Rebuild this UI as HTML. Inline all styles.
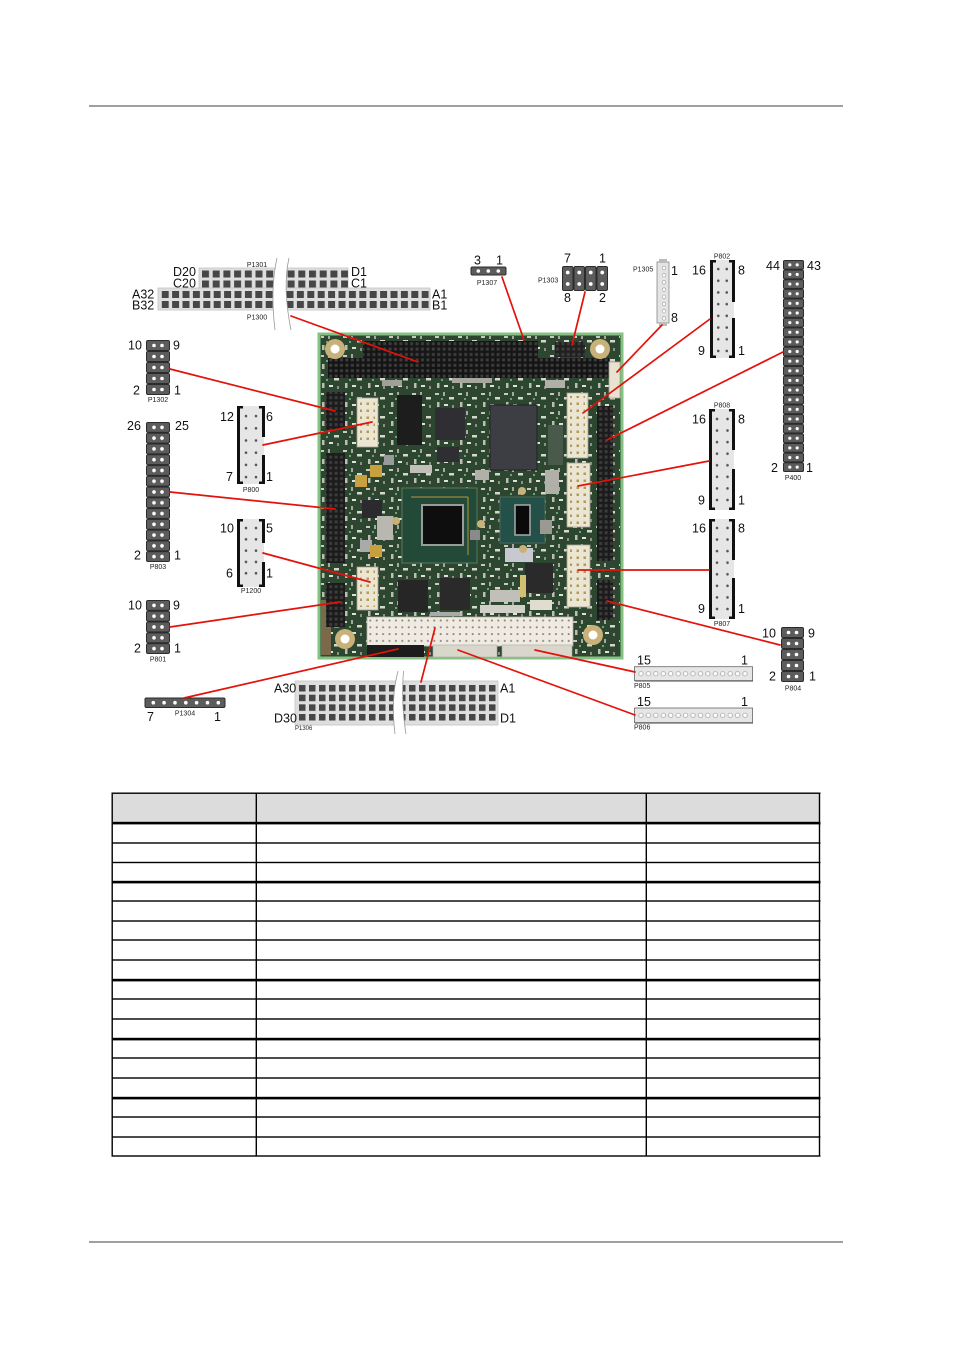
<!DOCTYPE html>
<html>
<head>
<meta charset="utf-8">
<style>
html,body{margin:0;padding:0;background:#fff;}
body{width:954px;height:1350px;position:relative;overflow:hidden;}
svg{position:absolute;left:0;top:0;}
.n{font-family:"Liberation Sans",Arial,sans-serif;font-size:12.5px;fill:#111;}
.s{font-family:"Liberation Sans",Arial,sans-serif;font-size:7px;fill:#222;}
</style>
</head>
<body>
<svg width="954" height="1350" viewBox="0 0 954 1350" xmlns="http://www.w3.org/2000/svg">
<defs>
  <pattern id="sqU" x="202" y="270.5" width="10.7" height="10" patternUnits="userSpaceOnUse"><rect x="0" y="0" width="7" height="7" fill="#474747"/></pattern>
  <pattern id="sqL" x="161.7" y="291" width="10.4" height="10" patternUnits="userSpaceOnUse"><rect x="0" y="0" width="7" height="7" fill="#474747"/></pattern>
  <pattern id="sqB" x="299" y="685" width="10" height="9.67" patternUnits="userSpaceOnUse"><rect x="0" y="0" width="6.5" height="6.5" fill="#474747"/></pattern>
  <pattern id="h1302" x="146" y="340" width="24" height="11" patternUnits="userSpaceOnUse"><rect x="0.5" y="0.5" width="23" height="10" rx="1.5" fill="#5c5c5c" stroke="#2b2b2b"/><circle cx="8" cy="5.5" r="1.8" fill="#fff"/><circle cx="16" cy="5.5" r="1.8" fill="#fff"/></pattern>
  <pattern id="h803" x="146" y="422" width="24" height="10.77" patternUnits="userSpaceOnUse"><rect x="0.5" y="0.5" width="23" height="9.77" rx="1.5" fill="#5c5c5c" stroke="#2b2b2b"/><circle cx="8" cy="5.4" r="1.8" fill="#fff"/><circle cx="16" cy="5.4" r="1.8" fill="#fff"/></pattern>
  <pattern id="h801" x="146" y="600" width="24" height="10.8" patternUnits="userSpaceOnUse"><rect x="0.5" y="0.5" width="23" height="9.8" rx="1.5" fill="#5c5c5c" stroke="#2b2b2b"/><circle cx="8" cy="5.4" r="1.8" fill="#fff"/><circle cx="16" cy="5.4" r="1.8" fill="#fff"/></pattern>
  <pattern id="h804" x="781" y="627" width="23" height="11" patternUnits="userSpaceOnUse"><rect x="0.5" y="0.5" width="22" height="10" rx="1.5" fill="#5c5c5c" stroke="#2b2b2b"/><circle cx="7.5" cy="5.5" r="1.8" fill="#fff"/><circle cx="15.5" cy="5.5" r="1.8" fill="#fff"/></pattern>
  <pattern id="h400" x="783" y="260" width="21" height="9.636" patternUnits="userSpaceOnUse"><rect x="0.5" y="0.5" width="20" height="8.636" rx="1.2" fill="#5c5c5c" stroke="#2b2b2b"/><circle cx="6.8" cy="4.8" r="1.6" fill="#fff"/><circle cx="14.2" cy="4.8" r="1.6" fill="#fff"/></pattern>
  <pattern id="h1303" x="562" y="266" width="11.5" height="25" patternUnits="userSpaceOnUse"><rect x="0.5" y="0.5" width="10.5" height="24" rx="1.5" fill="#5c5c5c" stroke="#2b2b2b"/><circle cx="5.75" cy="6.5" r="1.9" fill="#fff"/><circle cx="5.75" cy="18" r="1.9" fill="#fff"/></pattern>
  <pattern id="d800" x="241" y="410" width="10" height="12.2" patternUnits="userSpaceOnUse"><circle cx="5" cy="6.1" r="1.3" fill="#555"/></pattern>
  <pattern id="d1200" x="241" y="522.4" width="10" height="11.3" patternUnits="userSpaceOnUse"><circle cx="5" cy="5.65" r="1.3" fill="#555"/></pattern>
  <pattern id="d802" x="714" y="263.2" width="8.5" height="11.7" patternUnits="userSpaceOnUse"><circle cx="4.25" cy="5.85" r="1.3" fill="#555"/></pattern>
  <pattern id="d808" x="712" y="413.2" width="10.5" height="11.57" patternUnits="userSpaceOnUse"><circle cx="5" cy="5.8" r="1.3" fill="#555"/></pattern>
  <pattern id="d807" x="712" y="522.2" width="10.5" height="11.57" patternUnits="userSpaceOnUse"><circle cx="5" cy="5.8" r="1.3" fill="#555"/></pattern>
  <pattern id="d805" x="637.3" y="666.7" width="7.43" height="14" patternUnits="userSpaceOnUse"><circle cx="3.7" cy="7" r="2.2" fill="#fff" stroke="#999" stroke-width="0.7"/></pattern>
  <pattern id="d806" x="637.3" y="708" width="7.43" height="14.7" patternUnits="userSpaceOnUse"><circle cx="3.7" cy="7.3" r="2.2" fill="#fff" stroke="#999" stroke-width="0.7"/></pattern>
  <pattern id="hp" x="328" y="341" width="5.4" height="5.4" patternUnits="userSpaceOnUse"><rect x="1.2" y="1.2" width="3" height="3" fill="#3c3c3c"/></pattern>
  <pattern id="wp" x="367" y="617" width="6.4" height="6.8" patternUnits="userSpaceOnUse"><rect x="2.4" y="2.6" width="1.8" height="1.8" fill="#8a8275"/></pattern>
  <pattern id="gp" x="567" y="393" width="7" height="7" patternUnits="userSpaceOnUse"><rect x="2.5" y="2.5" width="2.5" height="2.5" fill="#b59a55"/></pattern>
  <!-- speckle texture of small SMD parts -->
  <pattern id="sp" x="319" y="334" width="23" height="19" patternUnits="userSpaceOnUse">
    <rect x="1" y="2" width="4" height="2" fill="#c9c9c0"/>
    <rect x="9" y="1" width="2" height="4" fill="#a8a8a0"/>
    <rect x="15" y="6" width="5" height="2.5" fill="#d6d6ce"/>
    <rect x="3" y="11" width="2.5" height="5" fill="#bdbdb5"/>
    <rect x="10" y="13" width="4" height="2" fill="#e0e0d8"/>
    <rect x="18" y="14" width="2" height="3" fill="#8f8f88"/>
    <rect x="7" y="7" width="2" height="2" fill="#6fa36f"/>
  </pattern>
</defs>

<!-- page rules -->
<rect x="89" y="105" width="754" height="2" fill="#a0a0a0"/>
<rect x="89" y="1241" width="754" height="2" fill="#a0a0a0"/>

<!-- ===================== BOARD ===================== -->
<rect x="319" y="334" width="303" height="324" fill="#2c4630" stroke="#84c283" stroke-width="3"/>
<rect x="321" y="336" width="299" height="320" fill="url(#sp)"/>
<rect x="321" y="600" width="10" height="55" fill="#7a6a4a"/>
<!-- top headers -->
<rect x="363" y="341" width="175" height="17" fill="#161616"/>
<rect x="328" y="358" width="281" height="20" fill="#141414"/>
<rect x="363" y="341" width="175" height="17" fill="url(#hp)"/>
<rect x="328" y="358" width="281" height="20" fill="url(#hp)"/>
<rect x="555" y="342" width="30" height="15" fill="#202020"/>
<rect x="555" y="342" width="30" height="15" fill="url(#hp)"/>
<!-- small white (P1305 on board) -->
<rect x="609" y="362" width="11" height="36" fill="#e8e2d0" stroke="#a9a38f" stroke-width="0.8"/>
<!-- right white connectors -->
<rect x="567" y="393" width="21" height="65" fill="#ebe5d3" stroke="#a9a38f" stroke-width="0.8"/>
<rect x="567" y="463" width="23" height="64" fill="#ebe5d3" stroke="#a9a38f" stroke-width="0.8"/>
<rect x="567" y="545" width="23" height="62" fill="#ebe5d3" stroke="#a9a38f" stroke-width="0.8"/>
<rect x="570" y="396" width="15" height="59" fill="url(#gp)"/>
<rect x="570" y="466" width="17" height="58" fill="url(#gp)"/>
<rect x="570" y="548" width="17" height="56" fill="url(#gp)"/>
<!-- right black headers -->
<rect x="597" y="406" width="16" height="155" fill="#1b1b1b"/>
<rect x="597" y="406" width="16" height="155" fill="url(#hp)"/>
<rect x="597" y="580" width="16" height="40" fill="#1b1b1b"/>
<rect x="597" y="580" width="16" height="40" fill="url(#hp)"/>
<!-- left black headers -->
<rect x="326" y="392" width="19" height="38" fill="#1b1b1b"/>
<rect x="326" y="453" width="19" height="110" fill="#1b1b1b"/>
<rect x="326" y="583" width="19" height="44" fill="#1b1b1b"/>
<rect x="326" y="392" width="19" height="38" fill="url(#hp)"/>
<rect x="326" y="453" width="19" height="110" fill="url(#hp)"/>
<rect x="326" y="583" width="19" height="44" fill="url(#hp)"/>
<!-- left white connectors -->
<rect x="357" y="398" width="21" height="49" fill="#ebe5d3" stroke="#a9a38f" stroke-width="0.8"/>
<rect x="357" y="567" width="21" height="43" fill="#ebe5d3" stroke="#a9a38f" stroke-width="0.8"/>
<rect x="360" y="401" width="15" height="43" fill="url(#gp)"/>
<rect x="360" y="570" width="15" height="37" fill="url(#gp)"/>
<!-- chips -->
<rect x="397" y="395" width="25" height="50" fill="#1d1d1d"/>
<rect x="435" y="408" width="30" height="32" fill="#2e2e33"/>
<rect x="490" y="405" width="47" height="65" fill="#3d3d44" stroke="#222" stroke-width="1"/>
<rect x="402" y="488" width="75" height="75" fill="#234a38" stroke="#5a7a5a" stroke-width="1"/>
<path d="M411,497 L468,497 M468,497 L468,555" stroke="#b8953a" stroke-width="1" fill="none"/>
<rect x="422" y="505" width="41" height="40" fill="#0e0e0e" stroke="#9a9a9a" stroke-width="2"/>
<rect x="500" y="497" width="45" height="46" fill="#24504a" stroke="#4a6a5a" stroke-width="1"/>
<rect x="515" y="505" width="15" height="30" fill="#0a0a0a" stroke="#aaa" stroke-width="1.5"/>
<rect x="398" y="580" width="30" height="32" fill="#262626"/>
<rect x="440" y="578" width="30" height="32" fill="#2a2a2a"/>
<rect x="525" y="563" width="28" height="30" fill="#2a2a2a"/>
<rect x="362" y="500" width="20" height="18" fill="#2b2b2f"/>
<rect x="437" y="447" width="22" height="15" fill="#2e2e33"/>
<rect x="505" y="548" width="28" height="14" fill="#c8c8d0"/>
<!-- small components -->
<rect x="384" y="455" width="10" height="10" fill="#9a9a9a"/>
<rect x="370" y="465" width="12" height="12" fill="#c8a040"/>
<rect x="355" y="475" width="12" height="12" fill="#c8a040"/>
<rect x="360" y="540" width="12" height="12" fill="#aaa"/>
<rect x="370" y="545" width="12" height="12" fill="#c8a040"/>
<rect x="377" y="516" width="16" height="24" fill="#b8b8b0"/>
<rect x="410" y="465" width="22" height="8" fill="#c0c0b8"/>
<rect x="475" y="470" width="14" height="10" fill="#b0b0a8"/>
<rect x="470" y="530" width="10" height="10" fill="#8a8a8a"/>
<rect x="545" y="470" width="14" height="24" fill="#b0b0a8"/>
<rect x="540" y="520" width="12" height="14" fill="#9a9a92"/>
<rect x="490" y="590" width="30" height="12" fill="#c0c0b8"/>
<rect x="480" y="605" width="45" height="8" fill="#d0d0c8"/>
<rect x="530" y="600" width="22" height="10" fill="#e0dcd0"/>
<rect x="520" y="575" width="6" height="22" fill="#d0c070"/>
<rect x="430" y="612" width="30" height="4" fill="#aaa"/>
<rect x="452" y="378" width="40" height="5" fill="#a8a8a0"/>
<rect x="545" y="380" width="20" height="8" fill="#b0b0a8"/>
<rect x="382" y="380" width="20" height="6" fill="#a0a098"/>
<rect x="548" y="425" width="15" height="40" fill="#4a5a4a"/>
<!-- bottom connectors -->
<rect x="367" y="617" width="206" height="29" fill="#efebe2" stroke="#b5b0a5" stroke-width="0.8"/>
<rect x="367" y="617" width="206" height="29" fill="url(#wp)"/>
<rect x="367" y="645" width="57" height="12" fill="#1c1c1c"/>
<rect x="433" y="645" width="64" height="12" fill="#d9d6cc" stroke="#aaa" stroke-width="0.6"/>
<rect x="502" y="645" width="70" height="12" fill="#d9d6cc" stroke="#aaa" stroke-width="0.6"/>
<!-- mounting holes -->
<circle cx="335" cy="349" r="10" fill="#c9b27a"/><circle cx="335" cy="349" r="4.5" fill="#fff"/>
<circle cx="600" cy="349" r="10" fill="#c9b27a"/><circle cx="600" cy="349" r="4.5" fill="#fff"/>
<circle cx="345" cy="639" r="10" fill="#c9b27a"/><circle cx="345" cy="639" r="4.5" fill="#fff"/>
<circle cx="593" cy="635" r="10" fill="#c9b27a"/><circle cx="593" cy="635" r="4.5" fill="#fff"/>
<circle cx="396" cy="521" r="4" fill="#c9b27a"/>
<circle cx="481" cy="524" r="4" fill="#c9b27a"/>
<circle cx="522" cy="491" r="4" fill="#c9b27a"/>
<circle cx="523" cy="549" r="4" fill="#c9b27a"/>

<!-- ===================== P1301 / P1300 ===================== -->
<rect x="199" y="268" width="149" height="20" fill="#dedede" stroke="#c4c4c4" stroke-width="0.8"/>
<rect x="158" y="288" width="272" height="22" fill="#dedede" stroke="#c4c4c4" stroke-width="0.8"/>
<rect x="202" y="270.5" width="146" height="17" fill="url(#sqU)"/>
<rect x="161.7" y="291" width="267" height="17" fill="url(#sqL)"/>
<path d="M277,258 C272,280 272,305 275,330 L291,330 C286,305 284,280 289,258 Z" fill="#fff"/>
<path d="M277,258 C272,280 272,305 275,330" fill="none" stroke="#999" stroke-width="0.8"/>
<path d="M289,258 C284,280 286,305 291,330" fill="none" stroke="#999" stroke-width="0.8"/>
<text class="n" x="173" y="276">D20</text>
<text class="n" x="173" y="287.5">C20</text>
<text class="n" x="132" y="298.5">A32</text>
<text class="n" x="132" y="309.5">B32</text>
<text class="n" x="351" y="276">D1</text>
<text class="n" x="351" y="287.5">C1</text>
<text class="n" x="432" y="298.5">A1</text>
<text class="n" x="432" y="309.5">B1</text>
<text class="s" x="257" y="267" text-anchor="middle">P1301</text>
<text class="s" x="257" y="319.5" text-anchor="middle">P1300</text>

<!-- P1307 -->
<rect x="471" y="267" width="35" height="8" rx="1.5" fill="#5c5c5c" stroke="#2b2b2b"/>
<circle cx="478.3" cy="271" r="1.8" fill="#fff"/><circle cx="488.3" cy="271" r="1.8" fill="#fff"/><circle cx="498.3" cy="271" r="1.8" fill="#fff"/>
<text class="n" x="474" y="264.5">3</text>
<text class="n" x="496" y="264.5">1</text>
<text class="s" x="487" y="285" text-anchor="middle">P1307</text>

<!-- P1303 -->
<rect x="562" y="266" width="46" height="25" fill="url(#h1303)"/>
<text class="n" x="564" y="262.5">7</text>
<text class="n" x="599" y="262.5">1</text>
<text class="n" x="564" y="302">8</text>
<text class="n" x="599" y="302">2</text>
<text class="s" x="538" y="282.5">P1303</text>

<!-- P1305 -->
<rect x="657" y="262" width="12" height="61" fill="#e4e4e4" stroke="#888" stroke-width="0.8"/>
<rect x="659" y="259" width="8" height="4" fill="#bbb"/>
<rect x="659" y="322" width="8" height="4" fill="#bbb"/>
<circle cx="664" cy="268" r="1.8" fill="#fff" stroke="#999" stroke-width="0.6"/>
<circle cx="664" cy="275.2" r="1.8" fill="#fff" stroke="#999" stroke-width="0.6"/>
<circle cx="664" cy="282.4" r="1.8" fill="#fff" stroke="#999" stroke-width="0.6"/>
<circle cx="664" cy="289.6" r="1.8" fill="#fff" stroke="#999" stroke-width="0.6"/>
<circle cx="664" cy="296.8" r="1.8" fill="#fff" stroke="#999" stroke-width="0.6"/>
<circle cx="664" cy="304" r="1.8" fill="#fff" stroke="#999" stroke-width="0.6"/>
<circle cx="664" cy="311.2" r="1.8" fill="#fff" stroke="#999" stroke-width="0.6"/>
<circle cx="664" cy="318.4" r="1.8" fill="#fff" stroke="#999" stroke-width="0.6"/>
<text class="s" x="633" y="271.5">P1305</text>
<text class="n" x="671" y="275">1</text>
<text class="n" x="671" y="322">8</text>

<!-- P802 -->
<rect x="711" y="260" width="23" height="98" fill="#e6e6e6"/>
<rect x="710" y="260" width="3" height="98" fill="#111"/>
<rect x="710" y="260" width="6" height="2.5" fill="#111"/>
<rect x="710" y="355.5" width="6" height="2.5" fill="#111"/>
<rect x="732" y="260" width="3" height="42" fill="#111"/>
<rect x="732" y="318" width="3" height="40" fill="#111"/>
<rect x="729" y="260" width="6" height="2.5" fill="#111"/>
<rect x="729" y="355.5" width="6" height="2.5" fill="#111"/>
<rect x="714" y="263.2" width="17" height="93.6" fill="url(#d802)"/>
<text class="s" x="722" y="258.5" text-anchor="middle">P802</text>
<text class="n" x="692" y="274.5">16</text>
<text class="n" x="738" y="274.5">8</text>
<text class="n" x="698" y="355">9</text>
<text class="n" x="738" y="355">1</text>

<!-- P400 -->
<rect x="783" y="260" width="21" height="212" fill="url(#h400)"/>
<text class="n" x="766" y="270">44</text>
<text class="n" x="807" y="270">43</text>
<text class="n" x="771" y="472">2</text>
<text class="n" x="806" y="472">1</text>
<text class="s" x="793" y="480" text-anchor="middle">P400</text>

<!-- P808 -->
<rect x="710" y="409" width="24" height="101" fill="#e6e6e6"/>
<rect x="709" y="409" width="3" height="101" fill="#111"/>
<rect x="709" y="409" width="6" height="2.5" fill="#111"/>
<rect x="709" y="507.5" width="6" height="2.5" fill="#111"/>
<rect x="732" y="409" width="3" height="41" fill="#111"/>
<rect x="732" y="469" width="3" height="41" fill="#111"/>
<rect x="729" y="409" width="6" height="2.5" fill="#111"/>
<rect x="729" y="507.5" width="6" height="2.5" fill="#111"/>
<rect x="712" y="413.2" width="21" height="92.6" fill="url(#d808)"/>
<text class="s" x="722" y="407.5" text-anchor="middle">P808</text>
<text class="n" x="692" y="423.5">16</text>
<text class="n" x="738" y="423.5">8</text>
<text class="n" x="698" y="504.5">9</text>
<text class="n" x="738" y="504.5">1</text>

<!-- P807 -->
<rect x="710" y="519" width="24" height="100" fill="#e6e6e6"/>
<rect x="709" y="519" width="3" height="100" fill="#111"/>
<rect x="709" y="519" width="6" height="2.5" fill="#111"/>
<rect x="709" y="616.5" width="6" height="2.5" fill="#111"/>
<rect x="732" y="519" width="3" height="41" fill="#111"/>
<rect x="732" y="578" width="3" height="41" fill="#111"/>
<rect x="729" y="519" width="6" height="2.5" fill="#111"/>
<rect x="729" y="616.5" width="6" height="2.5" fill="#111"/>
<rect x="712" y="522.2" width="21" height="92.6" fill="url(#d807)"/>
<text class="n" x="692" y="532.5">16</text>
<text class="n" x="738" y="532.5">8</text>
<text class="n" x="698" y="613">9</text>
<text class="n" x="738" y="613">1</text>
<text class="s" x="722" y="626" text-anchor="middle">P807</text>

<!-- P804 -->
<rect x="781" y="627" width="23" height="55" fill="url(#h804)"/>
<text class="n" x="762" y="637.5">10</text>
<text class="n" x="808" y="637.5">9</text>
<text class="n" x="769" y="680.5">2</text>
<text class="n" x="809" y="680.5">1</text>
<text class="s" x="793" y="690.5" text-anchor="middle">P804</text>

<!-- P805 -->
<rect x="634.5" y="666.7" width="118" height="14" fill="#e6e6e6" stroke="#666" stroke-width="0.8"/>
<rect x="637.3" y="666.7" width="111.5" height="14" fill="url(#d805)"/>
<line x1="635" y1="681" x2="753" y2="681" stroke="#444" stroke-width="1"/>
<text class="n" x="637" y="664.5">15</text>
<text class="n" x="741" y="664.5">1</text>
<text class="s" x="634" y="688">P805</text>

<!-- P806 -->
<rect x="634.5" y="708" width="118" height="14.7" fill="#e6e6e6" stroke="#666" stroke-width="0.8"/>
<rect x="637.3" y="708" width="111.5" height="14.7" fill="url(#d806)"/>
<line x1="635" y1="723" x2="753" y2="723" stroke="#444" stroke-width="1"/>
<text class="n" x="637" y="706">15</text>
<text class="n" x="741" y="706">1</text>
<text class="s" x="634" y="729.5">P806</text>

<!-- P1302 -->
<rect x="146" y="340" width="24" height="55" fill="url(#h1302)"/>
<text class="n" x="128" y="349.5">10</text>
<text class="n" x="173" y="349.5">9</text>
<text class="n" x="133" y="394.5">2</text>
<text class="n" x="174" y="394.5">1</text>
<text class="s" x="158" y="402" text-anchor="middle">P1302</text>

<!-- P803 -->
<rect x="146" y="422" width="24" height="140" fill="url(#h803)"/>
<text class="n" x="127" y="430">26</text>
<text class="n" x="175" y="430">25</text>
<text class="n" x="134" y="559.5">2</text>
<text class="n" x="174" y="559.5">1</text>
<text class="s" x="158" y="569" text-anchor="middle">P803</text>

<!-- P800 -->
<rect x="238" y="406" width="26" height="78" fill="#e6e6e6"/>
<rect x="237" y="406" width="3" height="78" fill="#111"/>
<rect x="237" y="406" width="6" height="2.5" fill="#111"/>
<rect x="237" y="481.5" width="6" height="2.5" fill="#111"/>
<rect x="262" y="406" width="3" height="31" fill="#111"/>
<rect x="262" y="455" width="3" height="29" fill="#111"/>
<rect x="259" y="406" width="6" height="2.5" fill="#111"/>
<rect x="259" y="481.5" width="6" height="2.5" fill="#111"/>
<rect x="241" y="410" width="20" height="73.2" fill="url(#d800)"/>
<text class="n" x="220" y="421">12</text>
<text class="n" x="266" y="421">6</text>
<text class="n" x="226" y="481">7</text>
<text class="n" x="266" y="481">1</text>
<text class="s" x="251" y="492" text-anchor="middle">P800</text>

<!-- P1200 -->
<rect x="238" y="519" width="26" height="68" fill="#e6e6e6"/>
<rect x="237" y="519" width="3" height="68" fill="#111"/>
<rect x="237" y="519" width="6" height="2.5" fill="#111"/>
<rect x="237" y="584.5" width="6" height="2.5" fill="#111"/>
<rect x="262" y="519" width="3" height="24" fill="#111"/>
<rect x="262" y="562" width="3" height="25" fill="#111"/>
<rect x="259" y="519" width="6" height="2.5" fill="#111"/>
<rect x="259" y="584.5" width="6" height="2.5" fill="#111"/>
<rect x="241" y="522.4" width="20" height="56.5" fill="url(#d1200)"/>
<text class="n" x="220" y="532.5">10</text>
<text class="n" x="266" y="532.5">5</text>
<text class="n" x="226" y="577.5">6</text>
<text class="n" x="266" y="577.5">1</text>
<text class="s" x="251" y="593" text-anchor="middle">P1200</text>

<!-- P801 -->
<rect x="146" y="600" width="24" height="54" fill="url(#h801)"/>
<text class="n" x="128" y="609.5">10</text>
<text class="n" x="173" y="609.5">9</text>
<text class="n" x="134" y="652.5">2</text>
<text class="n" x="174" y="652.5">1</text>
<text class="s" x="158" y="661.5" text-anchor="middle">P801</text>

<!-- P1304 -->
<rect x="145" y="698" width="80" height="9.5" rx="1.5" fill="#5c5c5c" stroke="#2b2b2b"/>
<circle cx="153.3" cy="702.7" r="1.8" fill="#fff"/>
<circle cx="164.1" cy="702.7" r="1.8" fill="#fff"/>
<circle cx="175" cy="702.7" r="1.8" fill="#fff"/>
<circle cx="185.8" cy="702.7" r="1.8" fill="#fff"/>
<circle cx="196.6" cy="702.7" r="1.8" fill="#fff"/>
<circle cx="207.5" cy="702.7" r="1.8" fill="#fff"/>
<circle cx="218.3" cy="702.7" r="1.8" fill="#fff"/>
<text class="n" x="147" y="721">7</text>
<text class="n" x="214" y="721">1</text>
<text class="s" x="185" y="715.5" text-anchor="middle">P1304</text>

<!-- P1306 -->
<rect x="295" y="681" width="203" height="44" fill="#dedede" stroke="#c4c4c4" stroke-width="0.8"/>
<rect x="299" y="685" width="197" height="36" fill="url(#sqB)"/>
<path d="M398,671 C393,690 392,710 395,734 L406,734 C402,710 402,690 403.5,671 Z" fill="#fff"/>
<path d="M398,671 C393,690 392,710 395,734" fill="none" stroke="#999" stroke-width="0.8"/>
<path d="M403.5,671 C402,690 402,710 406,734" fill="none" stroke="#999" stroke-width="0.8"/>
<text class="n" x="274" y="692.5">A30</text>
<text class="n" x="274" y="722.5">D30</text>
<text class="n" x="500" y="692.5">A1</text>
<text class="n" x="500" y="722.5">D1</text>
<text class="s" x="295" y="730" style="font-size:6px">P1306</text>

<!-- ===================== RED LEADERS ===================== -->
<g stroke="#e3120b" stroke-width="1.7" fill="none" stroke-linecap="round">
  <line x1="291" y1="316" x2="418" y2="362"/>
  <line x1="502" y1="277" x2="524" y2="340"/>
  <line x1="585" y1="292" x2="572" y2="345"/>
  <line x1="662" y1="325" x2="617" y2="372"/>
  <line x1="710" y1="319" x2="583" y2="413"/>
  <line x1="783" y1="352" x2="607" y2="440"/>
  <line x1="709" y1="461" x2="578" y2="486"/>
  <line x1="709" y1="570" x2="578" y2="570"/>
  <line x1="780" y1="645" x2="607" y2="601"/>
  <line x1="635" y1="672" x2="535" y2="650"/>
  <line x1="635" y1="715" x2="458" y2="650"/>
  <line x1="421" y1="682" x2="435" y2="628"/>
  <line x1="184" y1="698" x2="398" y2="649"/>
  <line x1="170" y1="627" x2="340" y2="602"/>
  <line x1="263" y1="553" x2="370" y2="582"/>
  <line x1="170" y1="492" x2="335" y2="509"/>
  <line x1="263" y1="445" x2="372" y2="422"/>
  <line x1="170" y1="369" x2="335" y2="411"/>
</g>

<!-- ===================== TABLE ===================== -->
<rect x="112" y="793" width="708" height="30" fill="#dcdcdc"/>
<g fill="#000">
  <rect x="111.5" y="792.5" width="709" height="1.4"/>
  <rect x="111.5" y="821.8" width="709" height="2.6"/>
  <rect x="111.5" y="842.3" width="709" height="1.4"/>
  <rect x="111.5" y="861.8" width="709" height="1.4"/>
  <rect x="111.5" y="880.8" width="709" height="2.6"/>
  <rect x="111.5" y="900.3" width="709" height="1.4"/>
  <rect x="111.5" y="920.3" width="709" height="1.4"/>
  <rect x="111.5" y="939.3" width="709" height="1.4"/>
  <rect x="111.5" y="959.3" width="709" height="1.4"/>
  <rect x="111.5" y="978.8" width="709" height="2.6"/>
  <rect x="111.5" y="998.3" width="709" height="1.4"/>
  <rect x="111.5" y="1018.3" width="709" height="1.4"/>
  <rect x="111.5" y="1037.8" width="709" height="2.6"/>
  <rect x="111.5" y="1057.3" width="709" height="1.4"/>
  <rect x="111.5" y="1077.3" width="709" height="1.4"/>
  <rect x="111.5" y="1096.8" width="709" height="2.6"/>
  <rect x="111.5" y="1116.3" width="709" height="1.4"/>
  <rect x="111.5" y="1136.3" width="709" height="1.4"/>
  <rect x="111.5" y="1155.3" width="709" height="1.4"/>
  <rect x="111.5" y="792.5" width="1.4" height="364"/>
  <rect x="255.6" y="792.5" width="1.4" height="364"/>
  <rect x="645.6" y="792.5" width="1.4" height="364"/>
  <rect x="818.8" y="792.5" width="1.4" height="364"/>
</g>
</svg>
</body>
</html>
